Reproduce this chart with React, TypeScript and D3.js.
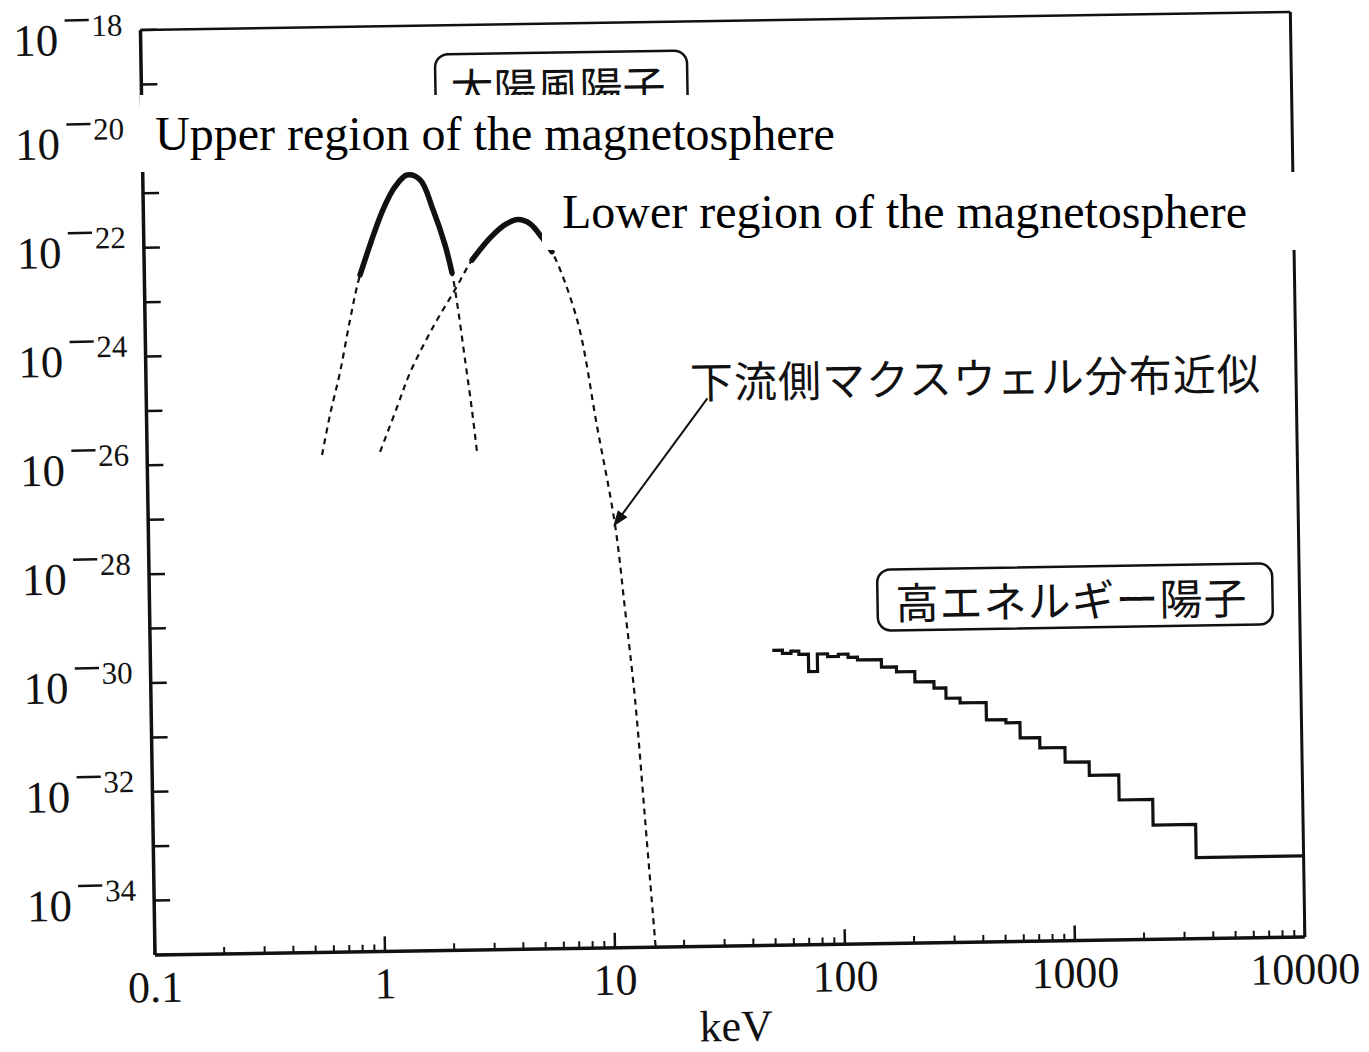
import React from 'react';
import * as d3 from 'd3';

// ---------- data (x in keV, y as log10 of the value) ----------
const xTickValues = [0.1, 1, 10, 100, 1000, 10000];
const xTickLabels = ['0.1', '1', '10', '100', '1000', '10000'];
const yLabelExponents = [-18, -20, -22, -24, -26, -28, -30, -32, -34];
const yTickExponents = [-35, -34, -33, -32, -31, -30, -29, -28, -27, -26, -25, -24, -23, -22, -21, -20, -19, -18];
const minorMultipliers = [2, 3, 4, 5, 6, 7, 8, 9];

// Upper-region Maxwellian (full approximation, dashed) and measured part (solid)
const upperMaxwell: [number, number][] = [
  [0.576, -25.86], [0.628, -25.12], [0.698, -24.35], [0.779, -23.38], [0.867, -22.56],
  [1.102, -21.37], [1.248, -20.95], [1.409, -20.74], [1.604, -20.83], [1.82, -21.39],
  [2.037, -22.03], [2.177, -22.55], [2.30, -23.23], [2.446, -24.15], [2.60, -25.07], [2.72, -25.87],
];
const upperMeasured: [number, number][] = [
  [0.867, -22.56], [1.102, -21.37], [1.248, -20.95], [1.409, -20.74], [1.604, -20.83],
  [1.82, -21.39], [2.037, -22.03], [2.177, -22.55],
];

// Lower-region Maxwellian
const lowerMaxwell: [number, number][] = [
  [1.03, -25.82], [1.23, -25.0], [1.407, -24.375], [1.786, -23.54], [2.237, -22.86],
  [2.665, -22.32], [3.204, -21.92], [3.73, -21.68], [4.25, -21.59], [4.79, -21.67],
  [5.39, -21.93], [5.94, -22.19], [7.56, -23.45], [9.08, -25.42], [10.7, -27.23],
  [11.67, -28.79], [12.72, -30.45], [13.8, -32.66], [14.96, -34.87], [15.2, -35.3],
];
const lowerMeasured: [number, number][] = [
  [2.665, -22.32], [3.204, -21.92], [3.73, -21.68], [4.25, -21.59], [4.79, -21.67],
  [5.39, -21.93], [5.94, -22.19],
];

// High-energy protons (histogram): bin edges in keV and log10 values
const hiEdges = [50.6, 56, 61, 66, 72.6, 79.4, 88, 98, 108, 118.6, 150.6, 175, 210, 254, 286, 329, 427, 519, 597, 726, 933, 1186, 1592, 2228, 3411, 10000];
const hiValues = [-29.58, -29.64, -29.6, -29.66, -29.98, -29.66, -29.71, -29.67, -29.73, -29.78, -29.92, -30.01, -30.2, -30.32, -30.51, -30.6, -30.92, -30.98, -31.26, -31.45, -31.72, -31.97, -32.43, -32.9, -33.51];

// arrow annotation (keV, log10)
const arrowFrom: [number, number] = [27.5, -24.93];
const arrowTo: [number, number] = [10.5, -27.26];

// ---------- layout ----------
const W = 1369;
const H = 1052;
const L = 155;
const R = 1305;
const T = 30;
const B = 955;
const ROT = -0.9;

const serif = "'Liberation Serif', 'Times New Roman', serif";
const jp = "'Noto Sans CJK JP', sans-serif";

export default function App() {
  const x = d3.scaleLog().domain([0.1, 10000]).range([L, R]);
  const y = d3.scaleLog().domain([1e-35, 1e-18]).range([B, T]);
  const px = (d: [number, number]) => x(d[0]);
  const py = (d: [number, number]) => y(Math.pow(10, d[1]));

  const smooth = d3.line<[number, number]>().x(px).y(py).curve(d3.curveCatmullRom.alpha(0.5));
  const histPts: [number, number][] = hiEdges.map((e, i) => [e, hiValues[Math.min(i, hiValues.length - 1)]]);
  const step = d3.line<[number, number]>().x(px).y(py).curve(d3.curveStepAfter);

  const minorTicks: number[] = [];
  xTickValues.slice(0, -1).forEach((v) => minorMultipliers.forEach((m) => minorTicks.push(v * m)));

  const ax = px(arrowFrom), ay = py(arrowFrom), bx = px(arrowTo), by = py(arrowTo);
  const ang = Math.atan2(by - ay, bx - ax);
  const hl = 16, hw = 6;
  const head = [
    [bx, by],
    [bx - hl * Math.cos(ang) + hw * Math.sin(ang), by - hl * Math.sin(ang) - hw * Math.cos(ang)],
    [bx - hl * Math.cos(ang) - hw * Math.sin(ang), by - hl * Math.sin(ang) + hw * Math.cos(ang)],
  ].map((p) => p.join(',')).join(' ');

  return (
    <svg width={W} height={H} style={{ position: 'absolute', left: 0, top: 0, display: 'block', background: '#fff' }}>
      <defs>
        <clipPath id="plotClip">
          <rect x={L} y={T} width={R - L} height={B - T} />
        </clipPath>
      </defs>
      <rect x={0} y={0} width={W} height={H} fill="#fff" />
      <g transform={`rotate(${ROT} ${L} ${B})`}>
        {/* frame */}
        <line x1={L} y1={T} x2={R} y2={T} stroke="#111" strokeWidth={2.5} />
        <line x1={R} y1={T} x2={R} y2={B} stroke="#111" strokeWidth={3} />
        <line x1={L} y1={T} x2={L} y2={B} stroke="#111" strokeWidth={3.5} />
        <line x1={L} y1={B} x2={R} y2={B} stroke="#111" strokeWidth={3.5} />

        {/* y ticks */}
        {yTickExponents.map((e) => (
          <line key={e} x1={L} x2={L + 16} y1={y(Math.pow(10, e))} y2={y(Math.pow(10, e))} stroke="#111" strokeWidth={2.5} />
        ))}
        {/* x ticks */}
        {xTickValues.map((v) => (
          <line key={v} x1={x(v)} x2={x(v)} y1={B} y2={B - 15} stroke="#111" strokeWidth={2.5} />
        ))}
        {minorTicks.map((v) => (
          <line key={'m' + v} x1={x(v)} x2={x(v)} y1={B} y2={B - 7} stroke="#111" strokeWidth={2} />
        ))}

        {/* y labels */}
        {yLabelExponents.map((e) => {
          const ty = y(Math.pow(10, e)) + (e === -18 ? 5 : 0);
          return (
            <text key={e} x={L - 18} y={ty + 19} textAnchor="end" fontFamily={serif} fill="#111">
              <tspan fontSize={45}>10</tspan><tspan fontSize={52} dx={4} dy={-17.5}>−</tspan><tspan fontSize={31} dy={-1.5}>{Math.abs(e)}</tspan>
            </text>
          );
        })}
        {/* x labels */}
        {xTickValues.map((v, i) => (
          <text key={v} x={x(v)} y={B + 47} textAnchor="middle" fontFamily={serif} fontSize={44} fill="#111">
            {xTickLabels[i]}
          </text>
        ))}
        <text x={735} y={B + 95} textAnchor="middle" fontFamily={serif} fontSize={44} fill="#111">keV</text>

        {/* curves */}
        <g clipPath="url(#plotClip)" fill="none" stroke="#111">
          <path d={smooth(upperMaxwell) || ''} strokeWidth={2.2} strokeDasharray="6 5" />
          <path d={smooth(lowerMaxwell) || ''} strokeWidth={2.2} strokeDasharray="6 5" />
          <path d={smooth(upperMeasured) || ''} strokeWidth={5.5} strokeLinecap="round" />
          <path d={smooth(lowerMeasured) || ''} strokeWidth={5.5} strokeLinecap="round" />
          <path d={step(histPts) || ''} strokeWidth={3.2} />
        </g>

        {/* arrow */}
        <line x1={ax} y1={ay} x2={bx - 8 * Math.cos(ang)} y2={by - 8 * Math.sin(ang)} stroke="#111" strokeWidth={2} />
        <polygon points={head} fill="#111" />

        {/* Japanese annotations */}
        <rect x={449} y={59} width={252} height={62} rx={13} fill="#fff" stroke="#111" strokeWidth={2.5} />
        <text x={464} y={91} dominantBaseline="central" fontFamily={jp} fontSize={43} fill="#111">太陽風陽子</text>
        <text x={699} y={388} dominantBaseline="central" fontFamily={jp} fontSize={43} fill="#111" letterSpacing={1}>下流側マクスウェル分布近似</text>
        <rect x={883} y={581} width={395} height={61} rx={13} fill="#fff" stroke="#111" strokeWidth={2.5} />
        <text x={901} y={612} dominantBaseline="central" fontFamily={jp} fontSize={43} fill="#111" letterSpacing={1}>高エネルギー陽子</text>
      </g>

      {/* pasted English labels (not rotated) */}
      <rect x={140} y={95} width={1145} height={77} fill="#fff" />
      <rect x={542} y={172} width={772} height={78} fill="#fff" />
      <text x={155} y={150} fontFamily={serif} fontSize={48} fill="#000">Upper region of the magnetosphere</text>
      <text x={562} y={228} fontFamily={serif} fontSize={48} fill="#000">Lower region of the magnetosphere</text>
    </svg>
  );
}
